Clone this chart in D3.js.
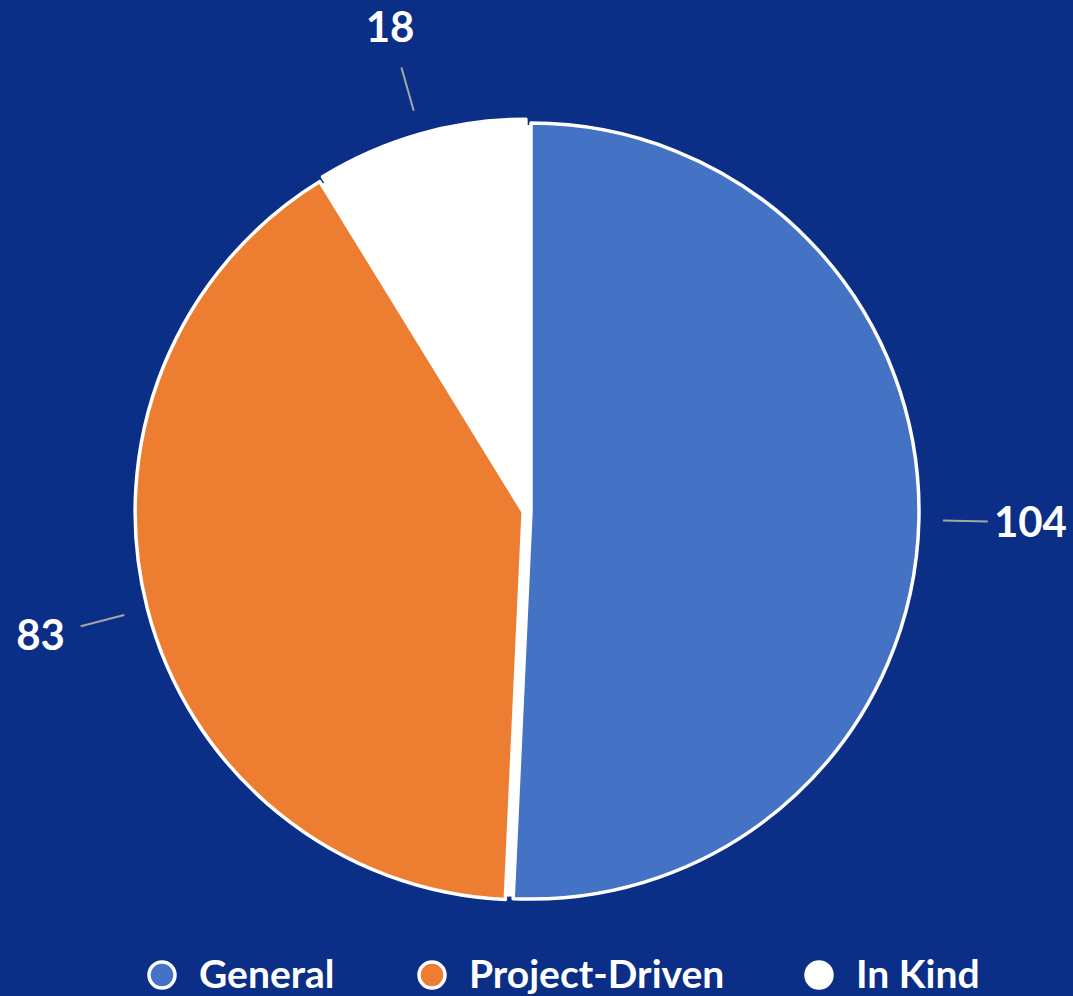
<!DOCTYPE html>
<html><head><meta charset="utf-8">
<script src="https://cdn.jsdelivr.net/npm/d3@7/dist/d3.min.js"></script>
<style>
html,body{margin:0;padding:0;background:#0B2E87;}
svg{display:block;}
</style></head>
<body>
<svg id="chart" width="1073" height="996"></svg>
<script>
const categories = ["General", "Project-Driven", "In Kind"];
const values = [104, 83, 18];
const colors = ["#4472C4", "#ED7D31", "#FFFFFF"];

const W = 1073, H = 996;
const cx = 527, cy = 511, R = 388, explode = 4;
const svg = d3.select("#chart");
svg.append("rect").attr("width", W).attr("height", H).attr("fill", "#0B2E87");

const data = categories.map((c, i) => ({cat: c, value: values[i], color: colors[i]}));
const pie = d3.pie().value(d => d.value).sort(null);
const arcs = pie(data);
const arc = d3.arc().innerRadius(0).outerRadius(R);

const g = svg.append("g").attr("transform", `translate(${cx},${cy})`);
// white backing so gaps between separated slices read as white
g.append("circle").attr("r", R - 2).attr("fill", "#FFFFFF");
g.selectAll("path.slice").data(arcs).enter().append("path")
  .attr("class", "slice")
  .attr("d", arc)
  .attr("transform", d => {
    const a = (d.startAngle + d.endAngle) / 2;
    return `translate(${Math.sin(a) * explode},${-Math.cos(a) * explode})`;
  })
  .attr("fill", d => d.data.color)
  .attr("stroke", "#FFFFFF")
  .attr("stroke-width", 3.5)
  .attr("stroke-linejoin", "round");

// leader lines + labels
const r1 = 416, r2 = 461;
arcs.forEach(d => {
  const a = (d.startAngle + d.endAngle) / 2;
  const s = Math.sin(a), c = -Math.cos(a);
  g.append("line")
    .attr("x1", s * r1).attr("y1", c * r1)
    .attr("x2", s * r2).attr("y2", c * r2)
    .attr("stroke", "#A6A6A6").attr("stroke-width", 2);
  const rl = 470;
  let x = s * rl, y = c * rl, anchor;
  if (Math.abs(s) < 0.4) { anchor = "middle"; x -= 9; y -= 17; }
  else if (s > 0) { anchor = "start"; x -= 3; y += 15; }
  else { anchor = "end"; x -= 7; y += 21; }
  g.append("text")
    .attr("x", x).attr("y", y)
    .attr("text-anchor", anchor)
    .attr("font-family", "Lato, 'Open Sans', sans-serif")
    .attr("font-weight", 700)
    .attr("font-size", 42)
    .attr("fill", "#FFFFFF")
    .text(d.data.value);
});

// legend
const legendX = [162, 432, 819];
const leg = svg.append("g");
data.forEach((d, i) => {
  leg.append("circle")
    .attr("cx", legendX[i]).attr("cy", 975).attr("r", 13)
    .attr("fill", d.color).attr("stroke", "#FFFFFF").attr("stroke-width", 3.5);
  leg.append("text")
    .attr("x", legendX[i] + 37).attr("y", 988)
    .attr("font-family", "Lato, 'Open Sans', sans-serif")
    .attr("font-weight", 700)
    .attr("font-size", 39)
    .attr("fill", "#FFFFFF")
    .text(d.cat);
});
</script>
</body></html>
